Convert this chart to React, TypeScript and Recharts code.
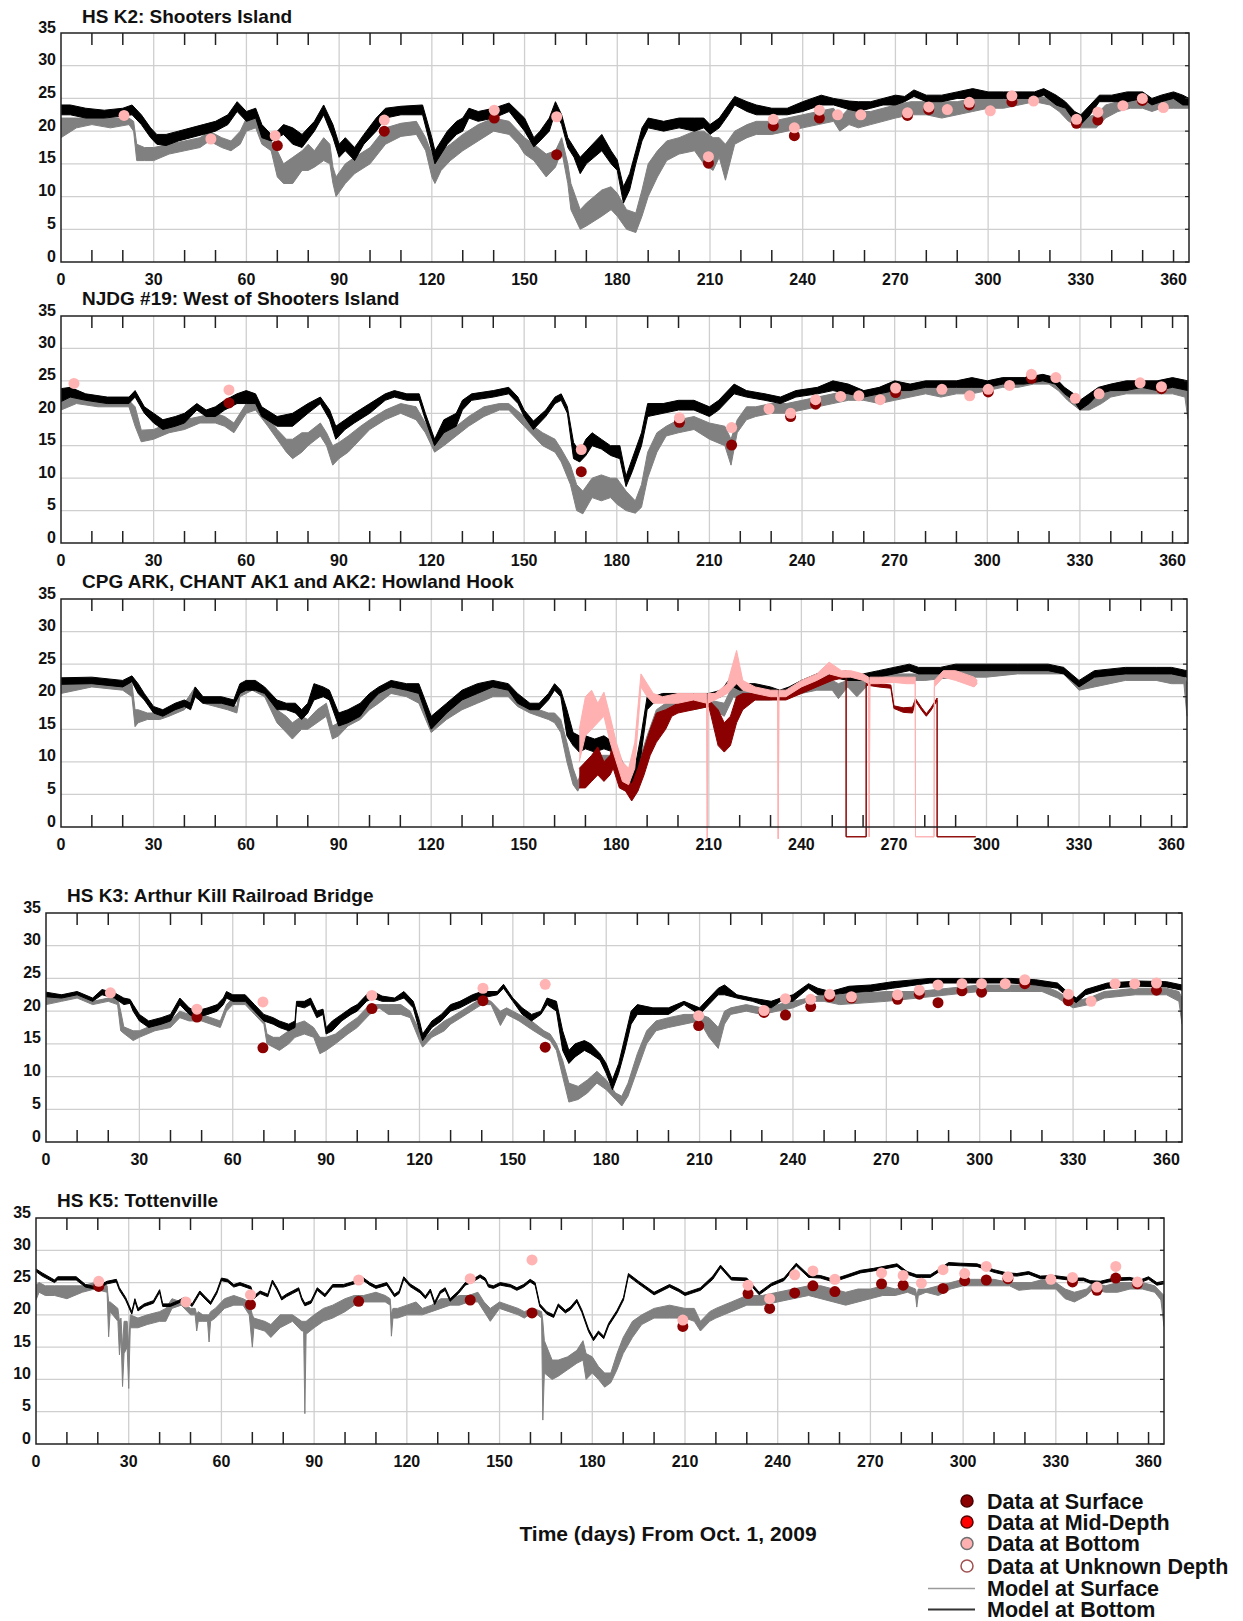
import React from "react";
import { ComposedChart, Area, Scatter, XAxis, YAxis, CartesianGrid, ReferenceArea } from "recharts";

type Row = [number, number, number]; // day, low, high of the model band
type Pt = [number, number]; // day, value

// ---------- HS K2: Shooters Island ----------
const k2Surface: Row[] = [
  [0, 19, 22], [5, 20.5, 22], [10, 21, 22], [16, 20.5, 22], [22, 21, 22], [23.5, 20, 21.5], [24.5, 15.5, 18], [27, 15.5, 17.5],
  [30, 15.5, 17.5], [35, 16.5, 18], [40, 17, 18.5], [45, 17.5, 19], [48, 18.5, 20], [52, 17.5, 19], [55, 17, 18.5], [58, 18, 20],
  [60, 20, 22], [63, 20.5, 22], [65, 18, 20], [68, 17, 18.5], [70, 13, 17], [72, 12, 15], [75, 12, 16], [78, 14, 17], [80, 14, 18],
  [82, 14.5, 17], [85, 15.5, 19], [87, 15, 18], [88, 12, 14.5], [89, 10, 13], [92, 12, 15], [95, 13.5, 16], [100, 15, 17.5],
  [105, 18, 20.5], [110, 19.2, 21.2], [115, 19.5, 21.5], [118, 17, 19], [120, 13, 16.5], [121, 12, 15], [123, 14, 17], [126, 15.5, 18],
  [130, 17, 19.5], [135, 18.5, 21], [140, 20, 22], [145, 19.5, 21.5], [148, 18, 20], [150, 16.5, 19], [153, 15.5, 18], [157, 13, 16.5],
  [160, 14.5, 17], [162, 17, 19], [164, 12, 15], [165, 8, 12], [168, 5, 8], [170, 5.5, 9], [175, 7, 11], [178, 8, 11.5], [180, 7, 10.5],
  [183, 5, 8], [186, 4.5, 7.5], [188, 7, 11], [190, 10, 15], [193, 13, 17], [196, 15.5, 18.5], [200, 16.5, 19], [205, 17, 20],
  [208, 15, 20], [211, 14, 19], [213, 16, 19], [215, 12.5, 18], [218, 18, 20], [222, 19, 21], [225, 19.5, 21.5], [230, 19.5, 21.5],
  [235, 20, 22], [240, 20.5, 22.5], [245, 21, 23], [250, 21.5, 23.5], [252, 20, 22], [255, 21, 23.5], [258, 20.5, 23], [262, 21, 23],
  [266, 21.5, 23.5], [270, 22, 24], [275, 22.5, 24.5], [280, 22.5, 24.5], [285, 22, 24.5], [290, 22.5, 24.5], [295, 23, 25],
  [300, 23.5, 25], [305, 23.5, 25], [310, 24, 25.5], [315, 24.5, 25.5], [320, 24, 25], [323, 23, 24], [326, 21.5, 23], [330, 20.5, 22],
  [335, 20.5, 22.5], [338, 22, 24], [342, 23, 24.5], [346, 23.5, 25], [350, 23.5, 25], [353, 23, 24.5], [356, 23.5, 24.5],
  [360, 23.5, 25], [365, 23.5, 24.5],
];
const k2Bottom: Row[] = [
  [0, 22.5, 24], [3, 22.5, 24], [8, 22, 23.5], [14, 22, 23.2], [20, 22.3, 23.5], [23, 22.5, 24], [26, 21, 22.5], [29, 19, 20.5],
  [31, 18, 19.5], [34, 17.8, 19.5], [38, 18.5, 20], [42, 19, 20.5], [46, 19.5, 21], [50, 20, 21.5], [54, 21, 22.5], [57, 23, 24.5],
  [60, 21.5, 23], [63, 22, 23.5], [65, 19, 21], [68, 18.5, 19.5], [70, 19, 20], [72, 19.5, 21], [75, 18, 20.5], [78, 17.5, 19.5],
  [82, 20, 21.5], [85, 22.5, 24], [88, 19, 21], [90, 16, 18], [92, 17, 19], [95, 15.5, 17.5], [98, 18, 19.5], [102, 20, 22],
  [105, 22, 23.5], [110, 22.5, 23.8], [117, 22.5, 24], [120, 17, 19], [121, 15, 17], [125, 18, 20], [128, 19.5, 21.5], [130, 20, 22],
  [132, 22, 23.5], [135, 21.5, 23], [140, 22, 23.5], [145, 23, 24.3], [150, 20, 22], [153, 17.6, 19], [155, 18.5, 20], [158, 20, 22],
  [160, 23, 24.5], [162, 21, 22.5], [164, 17.5, 19], [166, 16, 17.5], [168, 13.5, 16], [170, 15, 17], [175, 17, 19.5], [178, 15, 17],
  [180, 14, 15.6], [182, 9, 11.5], [184, 11, 13.5], [186, 15, 17], [188, 18.5, 20.5], [190, 20.5, 22], [195, 20, 21.5], [200, 20.5, 22],
  [205, 20, 22], [208, 20.5, 22], [210, 19.5, 21], [213, 20.5, 22], [216, 22.5, 24], [218, 24, 25.3], [222, 23, 24.5], [225, 22.5, 24],
  [230, 22.5, 23.5], [235, 22.5, 23.5], [240, 23, 24.5], [246, 24, 25.5], [250, 24, 25], [255, 23.3, 24.6], [258, 23, 24.5],
  [262, 23.5, 24.5], [266, 24, 25], [270, 24, 25.5], [273, 24.5, 25.3], [276, 25.3, 26.3], [280, 24.5, 25.5], [285, 24.5, 25.5],
  [290, 25, 26], [295, 25, 26.5], [300, 25, 26], [305, 25, 26], [310, 25, 26], [315, 25, 26], [318, 25.5, 26.5], [322, 24, 25.5],
  [325, 23.5, 24.5], [328, 21.5, 23], [330, 21, 22.5], [333, 22.5, 24], [336, 24.5, 25.5], [340, 24.5, 25.5], [345, 24.5, 26],
  [350, 25, 26], [353, 24, 25], [356, 24.5, 25.5], [360, 25, 26], [363, 24, 25.5], [365, 24, 25],
];
const k2DataSurface: Pt[] = [
  [70, 17.8], [104.6, 20.0], [140.2, 22.0], [160.4, 16.4], [209.5, 15.1], [230.5, 20.8], [237.3, 19.3], [245.4, 22.0], [273.9, 22.4],
  [280.8, 23.3], [293.9, 24.0], [307.7, 24.5], [328.6, 21.2], [335.5, 21.7], [349.9, 24.7],
];
const k2DataBottom: Pt[] = [
  [20.4, 22.4], [48.5, 18.8], [69.3, 19.3], [104.6, 21.7], [140.2, 23.2], [160.4, 22.2], [209.5, 16.1], [230.5, 21.8], [237.3, 20.5],
  [245.4, 23.2], [251.3, 22.5], [258.8, 22.5], [273.9, 22.8], [280.8, 23.7], [286.8, 23.3], [293.9, 24.4], [300.7, 23.1],
  [307.7, 25.4], [314.7, 24.6], [328.6, 21.8], [335.5, 22.9], [343.6, 23.9], [349.9, 25.0], [356.7, 23.6],
];

// ---------- NJDG #19: West of Shooters Island ----------
const nj19Surface: Row[] = [
  [0, 20.5, 22.5], [5, 21.5, 22.5], [12, 21, 22], [22, 21, 22], [24, 18, 21], [26, 15.6, 17.4], [30, 16, 17.5], [35, 17, 18.5],
  [40, 17.5, 19], [45, 18.5, 19.5], [50, 18.5, 20], [53, 18, 19.5], [56, 17, 18.5], [60, 20, 21.5], [63, 20.5, 22], [67, 18, 19.5],
  [70, 16, 17.5], [73, 14, 16], [75, 13, 16], [78, 14, 17], [80, 15, 17], [84, 16.5, 18.5], [86, 15, 17], [88, 12, 15], [90, 13, 15.5],
  [93, 14, 16.5], [97, 16, 18], [100, 17.5, 19], [105, 19, 20.5], [110, 20, 21.5], [115, 19, 21], [118, 17, 18.5], [121, 14, 15.5],
  [124, 15, 17], [128, 16.5, 18], [132, 18, 19.5], [137, 19.5, 21], [142, 20.5, 21.5], [145, 20.5, 21.5], [150, 18, 19.5],
  [153, 16.5, 18], [156, 15, 17], [160, 14, 16], [162, 12.5, 14.5], [165, 9, 12], [167, 5, 9], [169, 4.5, 8], [172, 7, 10],
  [175, 6.5, 10.5], [178, 7, 10], [180, 6, 10], [183, 5, 8], [186, 4.6, 6.5], [188, 5.5, 9], [190, 10, 14], [193, 14, 17],
  [196, 16.5, 18], [200, 17, 19], [205, 17.5, 19.5], [210, 16, 18.5], [215, 15, 18], [217, 12, 16], [219, 17, 19], [222, 19, 21],
  [225, 19.5, 21], [230, 20, 21.5], [235, 20, 21.5], [240, 20.5, 22], [245, 21, 22.5], [250, 21.5, 23], [255, 22, 23.5],
  [260, 22, 23.5], [265, 21.5, 23], [270, 22, 23.5], [275, 22.5, 24], [280, 23, 24], [285, 22.5, 24], [290, 23, 24], [295, 23, 24.5],
  [300, 23.5, 24.5], [305, 24, 25], [310, 24, 25], [315, 24.5, 25.5], [320, 24.5, 25.5], [323, 23.5, 24.5], [326, 22, 23.5],
  [330, 20.5, 22], [333, 20.5, 22], [337, 21.5, 23], [340, 22.5, 24], [345, 23, 24], [350, 23, 24.5], [355, 23, 24.5],
  [360, 23, 24.5], [364, 22.5, 24], [365, 19, 24],
];
const nj19Bottom: Row[] = [
  [0, 21.8, 23.8], [3, 22.5, 24], [8, 22, 23], [15, 21.5, 22.5], [22, 21.5, 22.5], [24, 22.5, 23.5], [27, 20, 21], [30, 18.5, 20],
  [33, 17.5, 19], [37, 18, 19.5], [40, 18.5, 20], [44, 20.5, 21.5], [47, 19.5, 20.5], [50, 19.5, 21], [53, 20.5, 22], [57, 21.5, 23],
  [60, 21.5, 23.5], [63, 21.5, 23], [65, 19.5, 21], [70, 18, 19.5], [75, 18, 20], [80, 20, 21.5], [84, 21.5, 22.5], [87, 19, 20.5],
  [89, 16, 18], [92, 17.5, 19], [95, 18.5, 20], [100, 20, 21.5], [105, 22, 23], [108, 22.5, 23.5], [112, 22, 23], [116, 22, 23],
  [118, 19, 20], [121, 15, 16], [124, 17, 19], [128, 18, 20], [130, 20.5, 22], [133, 22, 23], [140, 22.5, 23.5], [145, 23, 24],
  [148, 21.5, 22.5], [150, 19.5, 20.5], [153, 17.5, 18.8], [157, 19.5, 20.5], [160, 21.5, 22.5], [162, 22, 23], [164, 20, 21],
  [166, 13, 15.5], [168, 12.5, 14], [170, 13.5, 16], [172, 15, 17], [175, 14.5, 16], [178, 13.5, 15], [181, 13, 15], [183, 8.7, 10.3],
  [185, 11, 13], [188, 15, 17], [190, 19.5, 21.5], [195, 20, 21.5], [200, 20.5, 22], [205, 20.5, 22], [210, 19.5, 21], [213, 20.5, 22],
  [218, 23, 24.5], [222, 22.5, 23.5], [228, 22, 23], [233, 21.5, 22.5], [238, 22.5, 23.5], [245, 23, 24], [250, 23.5, 25],
  [255, 23, 24.5], [260, 22.5, 23.5], [265, 23, 24], [270, 23.5, 25], [275, 23.5, 24.5], [280, 24, 25], [290, 24, 25],
  [295, 24, 25.5], [300, 24, 25], [305, 24.5, 25.5], [312, 24.5, 25.5], [318, 25, 26], [322, 24.5, 25.5], [325, 23, 24],
  [328, 22, 23], [330, 20.5, 22], [333, 21.5, 23], [336, 23, 24], [340, 23.5, 24.5], [345, 23.5, 25], [350, 24, 25],
  [355, 23.5, 25], [360, 24, 25.5], [365, 23.5, 25],
];
const nj19DataSurface: Pt[] = [
  [54.4, 21.6], [168.5, 11.0], [200.3, 18.6], [217.2, 15.1], [236.3, 19.5], [244.4, 21.4], [270.3, 23.2], [300.3, 23.3],
  [314.3, 25.4], [356.4, 23.8],
];
const nj19DataBottom: Pt[] = [
  [4.2, 24.6], [54.4, 23.6], [168.5, 14.4], [200.3, 19.3], [217.2, 17.8], [229.3, 20.7], [236.3, 20.0], [244.4, 22.1], [252.5, 22.6],
  [258.4, 22.7], [265.3, 22.1], [270.3, 23.9], [285.3, 23.7], [294.3, 22.7], [300.3, 23.7], [307.2, 24.3], [314.3, 26.0],
  [322.2, 25.5], [328.5, 22.3], [336.2, 23.0], [349.5, 24.7], [356.4, 24.1],
];

// ---------- CPG ARK, CHANT AK1 and AK2: Howland Hook ----------
const hhSurface: Row[] = [
  [0, 20.5, 22.5], [10, 21.5, 22.5], [20, 21, 22], [23, 20, 22], [24, 15.4, 18], [25, 16, 18], [28, 16.5, 17.5], [32, 16.5, 17.5],
  [35, 17, 18], [40, 18, 19], [43.5, 20, 21.5], [46, 19, 20], [50, 18.5, 19.5], [54, 18, 19], [57, 17.5, 18.5], [58, 20, 21.5],
  [62, 21, 22], [66, 20, 21], [70, 16, 18], [73, 14.5, 17], [75, 13.5, 16], [78, 15, 17], [80, 15, 16.5], [83, 16, 18], [86, 17, 19],
  [88, 13.5, 15.5], [90, 14, 16], [93, 15.5, 17], [97, 16.5, 18], [100, 18, 19], [103, 19, 20.5], [107, 20.5, 21.5], [112, 20, 21],
  [116, 19, 20.5], [120, 14.5, 16], [125, 16.5, 18], [130, 18, 19.5], [135, 19, 20.5], [140, 20, 21.5], [145, 20, 21],
  [148, 18.5, 19.5], [152, 17.5, 18.5], [155, 17, 18], [158, 16.5, 17.5], [160, 16, 17.5], [162, 14.5, 16.5], [164, 10, 13],
  [166, 6.5, 9], [167.5, 5.5, 7], [170, 8, 10], [175, 9, 11], [180, 9, 11], [183, 6.5, 8], [186, 5, 7], [188, 8, 11], [190, 11, 14],
  [193, 16, 18], [196, 17.5, 19], [200, 18, 19.5], [205, 18, 19.5], [210, 18.5, 19.5], [215, 17, 19], [218, 20, 22], [220, 19.5, 21],
  [225, 19.5, 20.5], [230, 19.5, 20.5], [235, 20, 21], [240, 20.5, 21.5], [245, 21, 22.5], [250, 21, 22.5], [252, 19.7, 22],
  [255, 21.5, 22.5], [258, 20, 22.5], [262, 22, 23], [270, 22.5, 23.5], [280, 22.5, 23.5], [290, 23, 24], [300, 23, 24.5],
  [310, 23.5, 24.5], [325, 23.5, 24.5], [330, 21, 22], [335, 21.5, 23], [345, 22.5, 24], [355, 22.5, 24], [360, 22, 23.5],
  [364, 22, 23.5], [365, 17, 22],
];
const hhBottom: Row[] = [
  [0, 21.9, 22.9], [10, 22, 23], [20, 21.5, 22.5], [23, 22.3, 23.2], [25, 20.5, 22], [27, 19.5, 20.5], [30, 17.5, 18.5], [33, 17, 18],
  [37, 18, 19], [40, 18.5, 19.5], [42, 18, 19], [43.5, 20, 21.5], [46, 19, 20], [52, 19, 20], [56, 18.5, 19.5], [58, 20.5, 22],
  [60, 21, 22.5], [63, 21, 22.5], [66, 20.5, 21.5], [70, 18, 19.5], [73, 18, 19], [76, 17.5, 19], [78, 16.5, 18], [80, 17.5, 19],
  [82, 19.5, 22], [85, 20, 21.5], [87, 19.5, 21], [90, 15.5, 17.5], [93, 16, 18], [97, 17, 19], [100, 19, 20.5], [103, 20.5, 21.5],
  [107, 21.5, 22.5], [112, 21, 22], [116, 20.5, 22], [120, 15, 17], [125, 17.5, 19], [130, 19.5, 21], [135, 20.5, 22],
  [140, 21.5, 22.5], [145, 21, 22], [148, 19, 20.5], [152, 18, 19], [155, 18, 19], [158, 19.5, 20.5], [160, 21, 22], [162, 20, 21],
  [164, 14, 18], [166, 12.5, 14.5], [168, 11.5, 14], [170, 12, 14], [173, 11.5, 13.5], [176, 12, 14], [179, 11.5, 13], [181, 9, 11],
  [184, 6.5, 8], [186, 7, 9], [188, 11, 14], [190, 18, 20], [192, 19, 20], [195, 19.5, 20.5], [200, 19.5, 20.5], [205, 19.5, 20.5],
  [210, 19.5, 20.5], [214, 20, 21], [218, 21.5, 23.5], [220, 21, 22], [225, 21, 22], [230, 20.5, 21.5], [233, 20, 21],
  [236, 20.5, 21.5], [240, 21.5, 22.5], [245, 22.5, 23.5], [250, 23, 24], [255, 22.5, 23.5], [260, 22.5, 23.5], [265, 23, 24],
  [270, 23.5, 24.5], [275, 24, 25], [278, 23.5, 24.5], [285, 23.5, 24.5], [290, 24, 25], [300, 24, 25], [310, 24, 25],
  [320, 24, 25], [325, 23.5, 24.5], [330, 21.5, 22.5], [335, 23, 24], [345, 23.5, 24.5], [355, 23.5, 24.5], [360, 23.5, 24.5],
  [365, 23, 24],
];
// continuous records (with instrument drop-outs to about -1.5)
const hhRecordSurface: Row[] = [
  [168, 6, 9], [170, 6, 10], [172, 7, 11], [174, 8, 12.3], [176, 7, 10], [178, 8, 11], [179, 9, 13], [181, 6, 9], [183, 5.5, 8],
  [185, 4, 6.5], [187, 5.5, 9], [189, 8, 12], [191, 11, 15], [193, 13, 17.5], [196, 15, 18], [198, 17, 18.5], [200, 17.5, 19],
  [205, 18, 19.5], [210, 18.5, 19.5], [213, 12.5, 18], [215, 11.5, 16], [217, 12.5, 17], [219, 16, 20], [221, 18, 20.5],
  [225, 19.5, 20.5], [230, 19.5, 20.2], [235, 19.5, 20.5], [240, 20.5, 21.5], [245, 21.5, 22.5], [250, 22.5, 23.5], [254.5, 23, 24],
  [254.5, -1.5, -1.5], [261, -1.5, -1.5], [261, 21.8, 22.2], [265, 21.5, 22], [269, 21.3, 21.8], [270, 18.2, 18.6], [273, 17.6, 18.3],
  [276, 17.5, 18.4], [277, 19.3, 19.7], [279, 17.9, 18.3], [280.5, 17, 17.4], [282, 17.9, 18.3], [284, 19.4, 19.8],
  [284, -1.5, -1.5], [296.5, -1.5, -1.5],
];
const hhRecordBottom: Row[] = [
  [168, 10, 15], [170, 14, 20], [172, 15, 21], [174, 16, 19], [176, 17, 20.7], [178, 13, 17], [180, 10, 13], [182, 7, 10],
  [184, 6.5, 9], [186, 9, 13], [188, 21.5, 23.5], [190, 20, 22], [192, 19, 20.5], [195, 19, 20], [200, 19, 20.5], [205, 19.5, 20.5],
  [209.3, 19, 20.5], [209.5, -1.8, -1.8], [209.7, 19, 20.5], [212, 19.5, 20.5], [216, 20.5, 22], [219, 22, 27.1], [221, 21, 22.5],
  [225, 20.5, 21.5], [230, 20, 21], [232.3, 20, 21], [232.5, -1.8, -1.8], [232.7, 20, 21], [235, 20, 21], [240, 21.5, 22.5],
  [245, 22.5, 23.5], [249, 23.5, 25.3], [253, 23, 24], [256, 23, 24], [260, 22.5, 23.5], [261.8, 22, 23], [262, -1.5, -1.5],
  [262.2, 22, 23], [265, 22, 23], [270, 22.2, 23], [274, 22, 23], [276.9, 22, 23], [277, -1.5, -1.5], [283, -1.5, -1.5],
  [283.1, 21.5, 22.5], [286, 23, 24], [290, 22.5, 24], [293, 22, 23.5], [296, 21.5, 23], [297, 22, 22.5],
];

// ---------- HS K3: Arthur Kill Railroad Bridge ----------
const k3Surface: Row[] = [
  [0, 21, 22.5], [5, 21.5, 22.5], [10, 22, 22.5], [15, 21, 21.5], [20, 21.5, 22], [23, 21, 22], [24, 17, 20], [25, 16.6, 17.6],
  [28, 15.5, 17], [30, 16, 17], [35, 17, 18], [40, 17.5, 18.5], [43, 19, 20], [46, 18.5, 19.5], [50, 18.5, 19.5], [53, 18, 19],
  [56, 17.5, 18.5], [58, 20, 21], [60, 21, 22], [64, 21, 22], [67, 19.5, 20.5], [70, 18, 19], [71, 15, 16.5], [73, 14.5, 16],
  [75, 14, 16], [78, 15, 17], [80, 16, 18], [83, 16.5, 18.5], [86, 16, 17.5], [88, 13.5, 16], [90, 14, 16], [93, 15, 16.5],
  [97, 16.5, 18], [100, 17.5, 19], [104, 19.5, 21], [107, 20.5, 21], [110, 19.5, 21], [114, 19.5, 21], [117, 19, 20],
  [120, 15.5, 17], [121, 14.5, 15.5], [124, 16, 17], [128, 17, 18.5], [130, 18, 19], [135, 19.5, 20.5], [140, 21, 22],
  [143, 21, 21.5], [146, 17.8, 20], [148, 19.5, 20.5], [152, 18.5, 19.5], [156, 17.2, 18.5], [160, 16, 17], [162, 15.5, 16.5],
  [164, 14, 15], [166, 10, 12.5], [168, 6.1, 9], [171, 6.5, 8.5], [174, 7.5, 9.5], [177, 9, 10.8], [180, 8, 9.5], [183, 6.5, 7.5],
  [185, 5.5, 7], [187, 7, 9], [190, 11, 13.5], [193, 15, 17], [196, 17, 18.5], [200, 17.5, 19], [205, 18, 19.5], [210, 18.5, 19.5],
  [213, 16, 19], [216, 14.3, 17.5], [218, 18, 20], [220, 19.5, 20.5], [225, 20, 21], [230, 19.5, 20.5], [235, 20, 21],
  [240, 20.5, 21.5], [245, 21.5, 22], [250, 21.5, 22.5], [255, 21, 22.5], [270, 21.5, 23], [280, 22, 23], [290, 22.5, 23.5],
  [300, 23, 24], [310, 23, 24], [320, 23, 24], [325, 22, 23], [330, 20.5, 21.5], [335, 21, 22], [340, 22, 23], [350, 22.5, 23.5],
  [360, 22.5, 23.5], [364, 21.5, 23], [365, 18, 22],
];
const k3Bottom: Row[] = [
  [0, 22.2, 22.9], [5, 22, 22.5], [10, 22.5, 23], [15, 21.5, 22], [18, 22.5, 23.3], [22, 22, 22.8], [25, 21, 22], [27, 21.2, 21.8],
  [28, 20, 21], [30, 18.5, 19.5], [33, 17.5, 18.5], [37, 18, 19], [40, 18.5, 19.5], [43, 21, 22], [46, 19.5, 20.5], [48, 19, 20],
  [52, 19.5, 20.5], [55, 20, 21], [57, 21, 22], [58, 22, 23], [60, 21.5, 22.5], [64, 21.5, 22.5], [67, 20, 21], [70, 18.5, 19.5],
  [73, 18, 19], [75, 17.5, 18.5], [78, 17, 18], [80, 17.5, 18.5], [80.5, 20.8, 21.5], [83, 20.5, 21.5], [85, 21, 22], [87, 19, 20],
  [89, 19.5, 20.3], [90, 16.5, 17.5], [92, 17, 18.5], [95, 18.5, 19.5], [98, 19.5, 20.5], [100, 20, 21], [103, 21.5, 22.5],
  [105, 22, 23], [108, 21.5, 22.3], [112, 21.5, 22], [115, 22, 23], [118, 20.5, 21.5], [120, 17, 18.5], [121, 15.5, 16.5],
  [124, 17.5, 18.5], [127, 18.5, 19.5], [130, 20, 21], [133, 20.5, 21.5], [137, 21.5, 22.5], [140, 22, 23], [145, 22.5, 23],
  [147, 23.5, 24.1], [150, 21.5, 22], [153, 19.5, 20.5], [156, 18.5, 19.5], [159, 19.5, 20], [161, 21, 22], [164, 20, 21.5],
  [166, 14, 17], [168, 12, 14], [170, 13, 15], [173, 14, 15.5], [175, 13.5, 15], [178, 12.5, 13.5], [180, 10.5, 12], [182, 8, 9.5],
  [184, 10.5, 12], [186, 14, 16], [188, 18, 20], [190, 19.5, 21], [195, 19.5, 20.5], [200, 19.5, 20.5], [205, 21, 21.5],
  [210, 19.5, 20.5], [213, 21, 22], [216, 22.5, 23.5], [218, 22.5, 24], [222, 22, 22.5], [227, 21.5, 22], [233, 20.5, 21.5],
  [236, 21.5, 22], [240, 21.5, 22.5], [245, 23.5, 24.2], [248, 22.5, 23.5], [252, 22.5, 23], [258, 22.8, 23.8], [265, 23, 24],
  [272, 23.5, 24.5], [284, 24.3, 25], [297, 24.3, 25], [310, 24.3, 25], [318, 24, 24.8], [325, 23.5, 24.3], [328, 22.3, 23],
  [331, 21.3, 22], [334, 22.5, 23.3], [341, 23.5, 24.3], [351, 23.8, 24.6], [360, 23.7, 24.5], [365, 23.2, 24],
];
const k3DataSurface: Pt[] = [
  [48.5, 19.1], [69.7, 14.4], [104.7, 20.4], [140.4, 21.6], [160.4, 14.5], [209.7, 17.8], [230.7, 19.8], [237.6, 19.4],
  [245.7, 20.7], [251.8, 22.2], [258.8, 22.0], [273.6, 21.8], [280.6, 22.6], [286.6, 21.3], [294.3, 23.1], [300.6, 22.9],
  [314.5, 24.2], [328.5, 21.6], [356.8, 23.2],
];
const k3DataBottom: Pt[] = [
  [20.7, 22.8], [48.5, 20.3], [69.7, 21.4], [104.7, 22.4], [140.4, 23.5], [160.4, 24.1], [209.7, 19.3], [230.7, 20.1],
  [237.6, 21.9], [245.7, 21.8], [251.8, 22.6], [258.8, 22.2], [273.6, 22.5], [280.6, 23.2], [286.6, 24.0], [294.3, 24.2],
  [300.6, 24.2], [308.2, 24.2], [314.5, 24.8], [328.5, 22.6], [335.8, 21.5], [343.5, 24.2], [349.8, 24.2], [356.8, 24.3],
];

// ---------- HS K5: Tottenville ----------
const k5Surface: Row[] = [
  [0, 22.3, 24.6], [1, 23.5, 25], [3, 23, 24.5], [6, 23, 24.5], [10, 22.5, 24.5], [15, 23.5, 24.5], [19, 24, 25], [23, 23.5, 24.5],
  [23.5, 16.6, 22], [24, 20.5, 22], [26.5, 19, 21], [27, 13.8, 19], [27.5, 17, 19.5], [28, 8.9, 15], [28.5, 14, 19], [29.5, 15, 19],
  [30, 8.6, 15], [30.5, 18, 20], [33, 18, 19.5], [36, 18.5, 20], [40, 19, 20.5], [42, 19, 21], [44, 21, 22.5], [47, 21.5, 22],
  [50, 20, 21], [51.5, 20, 21], [52, 17.5, 20], [52.5, 19, 20.5], [54, 19, 20], [55.5, 19, 20], [56, 15.8, 20], [56.5, 19, 20.5],
  [58, 19.5, 21], [61, 21, 22.5], [64, 21.5, 23], [67, 21.5, 22.5], [69, 20, 22], [70, 15, 20], [70.5, 18, 19.5], [74, 17.5, 19],
  [76, 16.5, 18.5], [79, 18, 20], [83, 19, 20], [86, 17.5, 19], [86.6, 17.5, 19], [87, 4.7, 19], [87.4, 17, 19], [90, 18, 20],
  [93, 19, 21], [96, 19.5, 21.5], [100, 20.5, 22.5], [103, 21.5, 23], [106, 22, 23], [110, 22, 23.5], [113, 22, 23],
  [114.6, 21.5, 22.5], [115, 16.7, 20], [115.5, 19.5, 21], [117, 19.5, 21], [120, 20, 21.5], [123, 20, 22], [125, 20, 21],
  [128, 20.5, 21.5], [131, 21, 22.5], [134, 21.5, 22.5], [137, 21.5, 23], [140, 22, 23], [143, 22, 23.5], [145, 20.5, 22],
  [147, 19, 21], [150, 21, 22], [153, 20.5, 21.5], [156, 20, 21], [158, 19.5, 20.5], [161, 20.5, 21], [163.6, 19.5, 20.5],
  [164, 3.7, 19], [164.5, 11, 16], [167, 10, 13], [169, 10.5, 13], [172, 11.5, 13.5], [175, 12.5, 14.5], [177, 13, 16],
  [178, 10, 14], [180, 11, 13.5], [182, 10, 12], [184, 8.8, 11], [186, 9.5, 11], [188, 11.5, 14], [190, 14, 16.5], [193, 16.5, 19],
  [196, 18.5, 20], [200, 19.5, 21], [205, 19.5, 21.5], [210, 19.5, 21], [213, 19, 21], [215, 17.5, 19], [218, 19, 20.5],
  [220, 19.5, 21], [225, 20.5, 22], [230, 21.5, 23], [235, 21.5, 23], [240, 22, 23.5], [245, 22.5, 24], [250, 23, 24.5],
  [254, 22.5, 24.5], [258, 22, 24], [262, 21.5, 23.5], [266, 22, 24], [270, 22.5, 24], [274, 23, 24.5], [278, 23, 24],
  [282, 23.5, 24.5], [284.6, 23, 24], [285, 21.2, 23], [285.5, 23, 24], [288, 23.5, 24], [292, 23, 24.5], [296, 24, 25],
  [300, 24.5, 25.5], [305, 24.5, 25.5], [310, 24.5, 25.5], [315, 24.5, 25], [318, 23.8, 25], [322, 24, 25], [326, 24, 25.5],
  [330, 24, 25], [333, 22.5, 24], [336, 22, 23.5], [340, 23, 24], [342, 24, 25], [346, 23.5, 24.5], [350, 23.5, 25], [354, 24, 25],
  [358, 24, 25], [362, 23.5, 24.5], [364, 22.3, 23.5], [365, 18.2, 23],
];
const k5Bottom: Row[] = [
  [0, 26.7, 27.1], [2, 26, 26.5], [6, 25, 25.4], [7, 25.4, 25.9], [13, 25.4, 25.9], [16, 24.3, 24.7], [19, 24, 24.4],
  [21, 24.3, 24.7], [23, 24.8, 25.2], [26, 25.1, 25.5], [27, 23.8, 24.2], [29, 22.3, 22.7], [31, 20.1, 20.5], [32, 22.1, 22.5],
  [33, 20.6, 21], [35, 21.3, 21.7], [38, 21.8, 22.2], [40, 23.5, 23.9], [41, 21.3, 21.7], [43.5, 21.3, 21.7], [46, 21.8, 22.2],
  [48, 22.3, 22.7], [50.5, 21.3, 21.7], [53, 23.3, 23.7], [55, 22.3, 22.7], [56.5, 21.6, 22], [58.5, 23.3, 23.7], [60, 25.3, 25.7],
  [62, 25.1, 25.5], [64, 24.3, 24.7], [66, 24.6, 25], [69.5, 24, 24.4], [70.5, 22.5, 22.9], [72.5, 23.3, 23.7], [75, 22.8, 23.2],
  [76.5, 25, 25.4], [78, 23.8, 24.2], [79.5, 22.3, 22.7], [81, 22.8, 23.2], [83, 23.3, 23.7], [85, 23.8, 24.2], [86, 22.3, 22.7],
  [87, 21.4, 21.8], [89, 21.8, 22.2], [91, 23.8, 24.2], [93.5, 22.8, 23.2], [96, 24.3, 24.7], [99.5, 24.3, 24.7], [103, 24.8, 25.2],
  [106, 25.3, 25.7], [108, 24.6, 25], [110, 24.1, 24.5], [113.5, 24.6, 25], [116, 22.8, 23.2], [117.5, 23.3, 23.7],
  [119, 25.5, 25.9], [121, 24.4, 24.8], [124.3, 23.4, 23.8], [126, 22.5, 22.9], [127.6, 23.6, 24], [129, 21.6, 22],
  [130.8, 23.3, 23.7], [132.4, 23.8, 24.2], [134, 22.1, 22.5], [136.7, 23.3, 23.7], [138.9, 24.6, 25], [141, 25, 25.4],
  [143.7, 25.8, 26.2], [145.4, 25.3, 25.7], [146.4, 24.3, 24.7], [148, 24.1, 24.5], [150.2, 24.6, 25], [153.5, 24.3, 24.7],
  [155.6, 23.8, 24.2], [157.8, 24.3, 24.7], [159.9, 25.1, 25.5], [161.5, 24.6, 25], [163, 21.3, 21.7], [165.3, 20.1, 20.5],
  [167.5, 19.6, 20], [169, 21.3, 21.7], [171.3, 20.3, 20.7], [172.9, 20.8, 21.2], [175, 22, 22.4], [176.6, 20.4, 20.8],
  [178.8, 17.4, 17.8], [180.4, 16, 16.4], [182, 17.1, 17.5], [183.7, 16.3, 16.7], [185.3, 18.3, 18.7], [188, 20.3, 20.7],
  [190.1, 22.3, 22.7], [191.7, 26, 26.4], [195, 24.8, 25.2], [200, 23.1, 23.5], [205, 24.3, 24.7], [208, 23.6, 24],
  [210, 23, 23.4], [215, 23.8, 24.2], [219, 25.5, 26], [221.5, 27.3, 27.7], [225, 25.4, 25.8], [230, 25.3, 25.7],
  [234, 23.1, 23.5], [238, 24.5, 24.9], [242, 25.3, 25.7], [246, 27.6, 28], [250, 25.8, 26.2], [253.8, 25.7, 26.1],
  [258, 25.1, 25.5], [262.5, 25.8, 26.2], [266.8, 26.5, 26.9], [271, 26.8, 27.2], [278.6, 27.5, 27.9], [281.9, 26.3, 26.7],
  [285, 25.8, 26.2], [289.4, 25.8, 26.2], [292.6, 26.8, 27.2], [295.3, 27.7, 28.1], [299.1, 27.6, 28], [304.5, 27.5, 27.9],
  [309.9, 26.6, 27], [314.2, 26.1, 26.5], [317.4, 26, 26.4], [321.2, 26.3, 26.7], [325, 25.6, 26], [329.2, 25.7, 26.1],
  [335.7, 25.3, 25.7], [339, 25.3, 25.7], [341.1, 24.9, 25.3], [344.4, 24.8, 25.2], [348.7, 25.3, 25.7], [354, 25.4, 25.8],
  [357.3, 25, 25.4], [360, 25.5, 25.9], [362.7, 24.6, 25], [365, 24.8, 25.2],
];
const k5DataSurface: Pt[] = [
  [20.3, 24.4], [69.4, 21.6], [104.4, 22.1], [140.5, 22.3], [160.5, 20.3], [209.3, 18.2], [230.4, 23.3], [237.4, 21.0],
  [245.5, 23.4], [251.4, 24.5], [258.5, 23.6], [273.6, 24.8], [280.6, 24.6], [293.5, 24.1], [300.5, 25.3], [307.5, 25.4],
  [314.5, 25.6], [335.4, 25.1], [343.3, 23.8], [349.4, 25.7], [356.4, 24.8],
];
const k5DataBottom: Pt[] = [
  [20.3, 25.2], [48.5, 22.0], [69.4, 23.1], [104.4, 25.4], [140.5, 25.6], [160.5, 28.5], [209.3, 19.2], [230.4, 24.6],
  [237.4, 22.5], [245.5, 26.2], [251.4, 26.8], [258.5, 25.5], [273.6, 26.5], [280.6, 26.1], [286.5, 24.9], [293.5, 27.0],
  [300.5, 26.4], [307.5, 27.5], [314.5, 25.9], [328.4, 25.5], [335.4, 25.8], [343.3, 24.3], [349.4, 27.5], [356.4, 25.1],
];

// ---------- axes ----------
const X_TICKS = [0, 10, 20, 30, 40, 50, 60, 70, 80, 90, 100, 110, 120, 130, 140, 150, 160, 170, 180, 190, 200, 210, 220, 230, 240, 250, 260, 270, 280, 290, 300, 310, 320, 330, 340, 350, 360];
const X_GRID = [30, 60, 90, 120, 150, 180, 210, 240, 270, 300, 330];
const Y_TICKS = [0, 5, 10, 15, 20, 25, 30, 35];
const Y_GRID = [5, 10, 15, 20, 25, 30];

const GRAY = "#808080";
const DARK_RED = "#8B0000";
const PINK = "#FFB3B3";
const FONT = "'Liberation Sans', Arial, sans-serif";

const band = (rows: Row[]) => rows.map(([d, lo, hi]) => ({ d, band: [lo, hi] }));
const dots = (pts: Pt[]) => pts.map(([d, v]) => ({ d, v }));
const dotShape = (color: string) => (props: any) => <circle cx={props.cx} cy={props.cy} r={5.5} fill={color} />;

const PAD_TOP = 20;
const AXIS_W = 48;
const AXIS_H = 40;
const PAGE_W = 1243;

interface PanelProps {
  left: number; right: number; top: number; bottom: number;
  surface: Row[]; bottomModel: Row[];
  records?: { rows: Row[]; color: string }[];
  dataSurface?: Pt[]; dataBottom?: Pt[];
  unclip?: boolean;
}

function Panel(p: PanelProps) {
  const plotH = p.bottom - p.top;
  const yBottom = PAD_TOP + plotH;

  const xTick = (props: any) => {
    const { x, payload } = props;
    const v = payload.value as number;
    const showMark = !X_GRID.includes(v) && v !== 0;
    return (
      <g>
        {showMark && <line x1={x} x2={x} y1={yBottom} y2={yBottom - 12} stroke="#222" strokeWidth={1.5} />}
        {showMark && <line x1={x} x2={x} y1={PAD_TOP} y2={PAD_TOP + 12} stroke="#222" strokeWidth={1.5} />}
        {v % 30 === 0 && (
          <text x={x} y={yBottom + 17} textAnchor="middle" dominantBaseline="central" fontFamily={FONT} fontWeight="bold" fontSize={16} fill="#111">
            {v}
          </text>
        )}
      </g>
    );
  };

  const yTick = (props: any) => {
    const { x, y, payload } = props;
    return (
      <g>
        <text x={x - 5} y={y - 6} textAnchor="end" dominantBaseline="central" fontFamily={FONT} fontWeight="bold" fontSize={16} fill="#111">
          {payload.value}
        </text>
        <line x1={p.right - 4} x2={p.right} y1={y} y2={y} stroke="#222" strokeWidth={1.2} />
      </g>
    );
  };

  return (
    <div className={p.unclip ? "unclip" : undefined} style={{ position: "absolute", left: 0, top: p.top - PAD_TOP }}>
      <ComposedChart
        width={PAGE_W}
        height={PAD_TOP + plotH + AXIS_H}
        margin={{ top: PAD_TOP, right: PAGE_W - p.right, bottom: 0, left: p.left - AXIS_W }}
      >
        <CartesianGrid stroke="#cfcfcf" strokeWidth={1.3} verticalValues={X_GRID} horizontalValues={Y_GRID} />
        <XAxis dataKey="d" type="number" domain={[0, 365]} ticks={X_TICKS} interval={0} allowDataOverflow
          tickSize={0} tickMargin={0} axisLine={false} tickLine={false} tick={xTick} height={AXIS_H} />
        <YAxis type="number" domain={[0, 35]} ticks={Y_TICKS} interval={0} allowDataOverflow
          tickSize={0} tickMargin={0} axisLine={false} tickLine={false} tick={yTick} width={AXIS_W} />
        <Area data={band(p.surface)} dataKey="band" type="linear" stroke={GRAY} strokeWidth={1} fill={GRAY} fillOpacity={1}
          dot={false} activeDot={false} isAnimationActive={false} />
        <Area data={band(p.bottomModel)} dataKey="band" type="linear" stroke="#000" strokeWidth={1} fill="#000" fillOpacity={1}
          dot={false} activeDot={false} isAnimationActive={false} />
        {(p.records ?? []).map((r, i) => (
          <Area key={i} data={band(r.rows)} dataKey="band" type="linear" stroke={r.color} strokeWidth={1} fill={r.color} fillOpacity={1}
            dot={false} activeDot={false} isAnimationActive={false} />
        ))}
        {p.dataSurface && (
          <Scatter data={dots(p.dataSurface)} dataKey="v" fill={DARK_RED} shape={dotShape(DARK_RED)} isAnimationActive={false} />
        )}
        {p.dataBottom && (
          <Scatter data={dots(p.dataBottom)} dataKey="v" fill={PINK} shape={dotShape(PINK)} isAnimationActive={false} />
        )}
        <ReferenceArea x1={0} x2={365} y1={0} y2={35} fill="none" fillOpacity={0} stroke="#222" strokeWidth={1.5} />
      </ComposedChart>
    </div>
  );
}

const TITLES = [
  { text: "HS K2: Shooters Island", x: 82, y: 23 },
  { text: "NJDG #19: West of Shooters Island", x: 82, y: 305 },
  { text: "CPG ARK, CHANT AK1 and AK2: Howland Hook", x: 82, y: 588 },
  { text: "HS K3: Arthur Kill Railroad Bridge", x: 67, y: 902 },
  { text: "HS K5: Tottenville", x: 57, y: 1207 },
];

const LEGEND = [
  { label: "Data at Surface", kind: "dot", fill: DARK_RED, stroke: "#4a0000" },
  { label: "Data at Mid-Depth", kind: "dot", fill: "#FF0000", stroke: "#5a0000" },
  { label: "Data at Bottom", kind: "dot", fill: "#FFB0B0", stroke: "#707070" },
  { label: "Data at Unknown Depth", kind: "dot", fill: "#FFFFFF", stroke: "#A05050" },
  { label: "Model at Surface", kind: "line", fill: "#9a9a9a", stroke: "#9a9a9a" },
  { label: "Model at Bottom", kind: "line", fill: "#333", stroke: "#333" },
];
const LEGEND_ROWS = [1501, 1522, 1543.5, 1566, 1588.5, 1609.5];

export default function App() {
  return (
    <div style={{ position: "absolute", left: 0, top: 0, width: PAGE_W, height: 1621, background: "#fff", overflow: "hidden" }}>
      <style>{`.unclip .recharts-area, .unclip .recharts-area * { clip-path: none !important; } .recharts-surface { overflow: visible; }`}</style>
      <Panel left={61} right={1189} top={33} bottom={262} surface={k2Surface} bottomModel={k2Bottom}
        dataSurface={k2DataSurface} dataBottom={k2DataBottom} />
      <Panel left={61} right={1188} top={316} bottom={543} surface={nj19Surface} bottomModel={nj19Bottom}
        dataSurface={nj19DataSurface} dataBottom={nj19DataBottom} />
      <Panel left={61} right={1187} top={599} bottom={827} surface={hhSurface} bottomModel={hhBottom} unclip
        records={[{ rows: hhRecordSurface, color: DARK_RED }, { rows: hhRecordBottom, color: "#FFB0B0" }]} />
      <Panel left={46} right={1182} top={913} bottom={1142} surface={k3Surface} bottomModel={k3Bottom}
        dataSurface={k3DataSurface} dataBottom={k3DataBottom} />
      <Panel left={36} right={1164} top={1218} bottom={1444} surface={k5Surface} bottomModel={k5Bottom}
        dataSurface={k5DataSurface} dataBottom={k5DataBottom} />
      <svg width={PAGE_W} height={1621} style={{ position: "absolute", left: 0, top: 0, pointerEvents: "none" }}>
        {TITLES.map((t) => (
          <text key={t.text} x={t.x} y={t.y} fontFamily={FONT} fontWeight="bold" fontSize={19} fill="#111">{t.text}</text>
        ))}
        <text x={668} y={1541} textAnchor="middle" fontFamily={FONT} fontWeight="bold" fontSize={21} fill="#111">
          Time (days) From Oct. 1, 2009
        </text>
        {LEGEND.map((l, i) => {
          const cy = LEGEND_ROWS[i];
          return (
            <g key={l.label}>
              {l.kind === "dot" ? (
                <circle cx={967} cy={cy} r={6} fill={l.fill} stroke={l.stroke} strokeWidth={1.5} />
              ) : (
                <line x1={928} x2={975} y1={cy} y2={cy} stroke={l.stroke} strokeWidth={l.label === "Model at Bottom" ? 2 : 1.5} />
              )}
              <text x={987} y={cy + 7.5} fontFamily={FONT} fontWeight="bold" fontSize={21.5} fill="#111">{l.label}</text>
            </g>
          );
        })}
      </svg>
    </div>
  );
}
